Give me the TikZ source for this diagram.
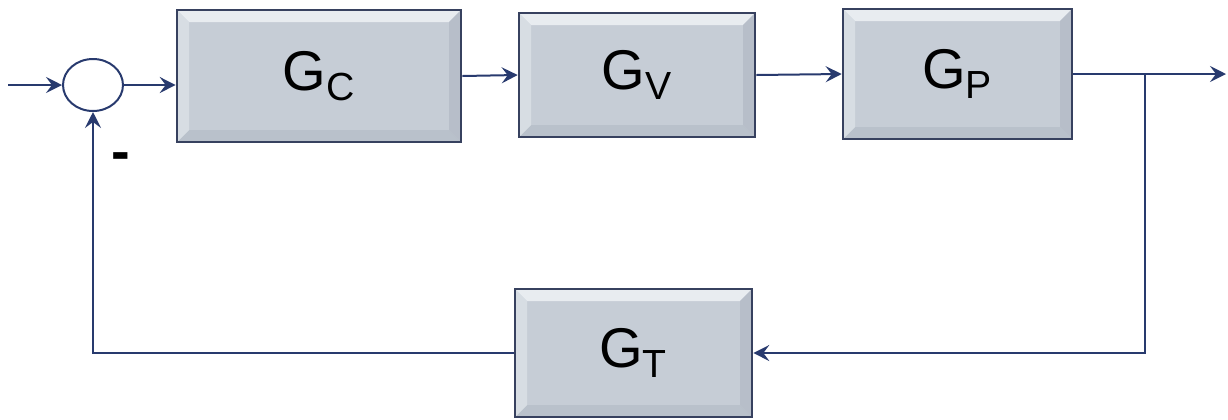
\documentclass[tikz,border=0pt]{standalone}
\usepackage{fontspec}
\setmainfont{Liberation Sans}
\usetikzlibrary{arrows.meta,shapes.geometric}
\definecolor{navy}{RGB}{40,58,110}
\definecolor{boxedge}{RGB}{55,65,95}
\definecolor{boxfill}{RGB}{198,205,214}
\definecolor{bevlight}{RGB}{232,236,240}
\definecolor{bevdark}{RGB}{170,178,190}
\tikzset{
  blk/.style={draw=boxedge,line width=1.3pt,fill=boxfill,inner sep=0pt,
    font=\fontsize{28}{30}\selectfont,
    path picture={
      \fill[bevlight] (path picture bounding box.north west) -- (path picture bounding box.north east)
        -- ([xshift=-6pt,yshift=-6pt]path picture bounding box.north east) -- ([xshift=6pt,yshift=-6pt]path picture bounding box.north west) -- cycle;
      \fill[bevdark!45!boxfill] (path picture bounding box.south west) -- (path picture bounding box.south east)
        -- ([xshift=-6pt,yshift=6pt]path picture bounding box.south east) -- ([xshift=6pt,yshift=6pt]path picture bounding box.south west) -- cycle;
      \fill[bevlight!50!boxfill] (path picture bounding box.north west) -- (path picture bounding box.south west)
        -- ([xshift=6pt,yshift=6pt]path picture bounding box.south west) -- ([xshift=6pt,yshift=-6pt]path picture bounding box.north west) -- cycle;
      \fill[bevdark!55!boxfill] (path picture bounding box.north east) -- (path picture bounding box.south east)
        -- ([xshift=-6pt,yshift=6pt]path picture bounding box.south east) -- ([xshift=-6pt,yshift=-6pt]path picture bounding box.north east) -- cycle;
    }},
  sig/.style={draw=navy,line width=1pt},
  arr/.style={sig,-{Stealth[length=8pt,width=8pt,inset=3pt]}},
  sumnode/.style={ellipse,draw=navy,line width=1pt,minimum width=30pt,minimum height=26pt,inner sep=0pt}
}
\begin{document}
\begin{tikzpicture}[x=0.5pt,y=-0.5pt]
\useasboundingbox (0,0) rectangle (1228,419);
\node[sumnode] (sum) at (93,85) {};
\node[blk,minimum width=142pt,minimum height=66pt] (gc) at (319,76) {G\textsubscript{C}};
\node[blk,minimum width=118pt,minimum height=62pt] (gv) at (637,75) {G\textsubscript{V}};
\node[blk,minimum width=114.5pt,minimum height=65pt] (gp) at (957.5,74) {G\textsubscript{P}};
\node[blk,minimum width=118.5pt,minimum height=64pt] (gt) at (633.5,353) {G\textsubscript{T}};
\node[font=\fontsize{28}{30}\selectfont\bfseries,inner sep=0pt] (minus) at (121,162) {-};
\coordinate (in) at (8,85);
\coordinate (out) at (1226,74);
\coordinate (br) at (1145,74);
\draw[arr] (in) -- (sum.west);
\draw[arr] (sum.east) -- (gc.west |- sum.east);
\draw[arr] (gc.east) -- (gv.west);
\draw[arr] (gv.east) -- (gp.west);
\draw[arr] (gp.east) -- (out);
\draw[arr] (br) |- (gt.east);
\draw[arr] (gt.west) -| (sum.south);
\end{tikzpicture}
\end{document}
